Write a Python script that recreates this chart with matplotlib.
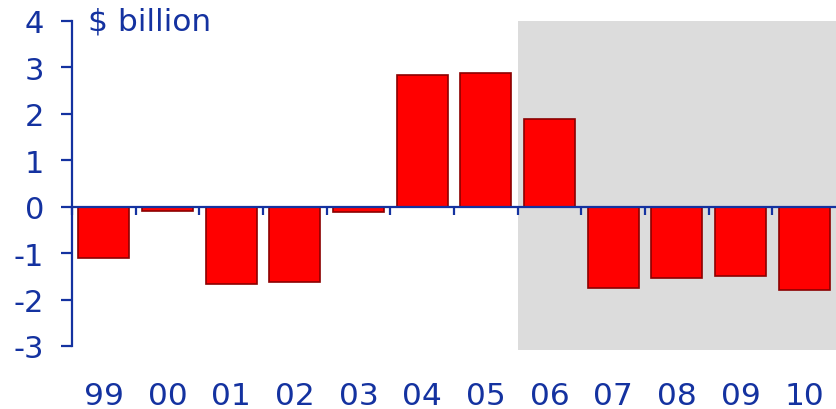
import matplotlib
matplotlib.use("Agg")

import matplotlib.pyplot as plt
from matplotlib.patches import Rectangle
import numpy as np

years = ['99', '00', '01', '02', '03', '04', '05', '06', '07', '08', '09', '10']
values = [-1.10, -0.10, -1.66, -1.62, -0.12, 2.84, 2.89, 1.90, -1.75, -1.53, -1.49, -1.79]
shade_from = '06'

blue = '#1432a0'
plt.rcParams['axes.unicode_minus'] = False

fig = plt.figure(figsize=(8.36, 4.10), dpi=100)
ax = fig.add_axes([72 / 836, 1 - 347 / 410, 1 - 72 / 836, (347 - 22) / 410])

x = np.arange(len(years))

# shaded forecast region
start = years.index(shade_from) - 0.5
ax.add_patch(Rectangle((start, -3.09), len(years) - 0.5 - start + 0.1, 7.09,
                       facecolor='#dcdcdc', edgecolor='none', clip_on=False, zorder=0))

ax.bar(x, values, width=0.8, color='#ff0000', edgecolor='#8b0000', linewidth=1.2, zorder=2)

ax.set_xlim(-0.5, len(years) - 0.5)
ax.set_ylim(-3, 4)

for s in ['top', 'right']:
    ax.spines[s].set_visible(False)
ax.spines['bottom'].set_position(('data', 0))
ax.spines['bottom'].set_color(blue)
ax.spines['bottom'].set_linewidth(1.6)
ax.spines['bottom'].set_zorder(3)
ax.spines['left'].set_color(blue)
ax.spines['left'].set_linewidth(1.6)

ax.set_yticks(range(-3, 5))
ax.tick_params(axis='y', colors=blue, length=8, width=1.6, pad=12, labelsize=22)
ax.set_xticks(np.arange(len(years)) - 0.5)
ax.set_xticklabels([])
ax.tick_params(axis='x', colors=blue, length=6, width=1.6, direction='out')

for xi, lab in zip(x, years):
    ax.text(xi, -0.152, lab, transform=ax.get_xaxis_transform(), ha='center', va='center',
            fontsize=22.5, color=blue)

fig.text(88 / 836, 1 - 22 / 410, '\\$ billion', ha='left', va='center',
         fontsize=22.5, color=blue)

fig.savefig('out.png', dpi=100)
